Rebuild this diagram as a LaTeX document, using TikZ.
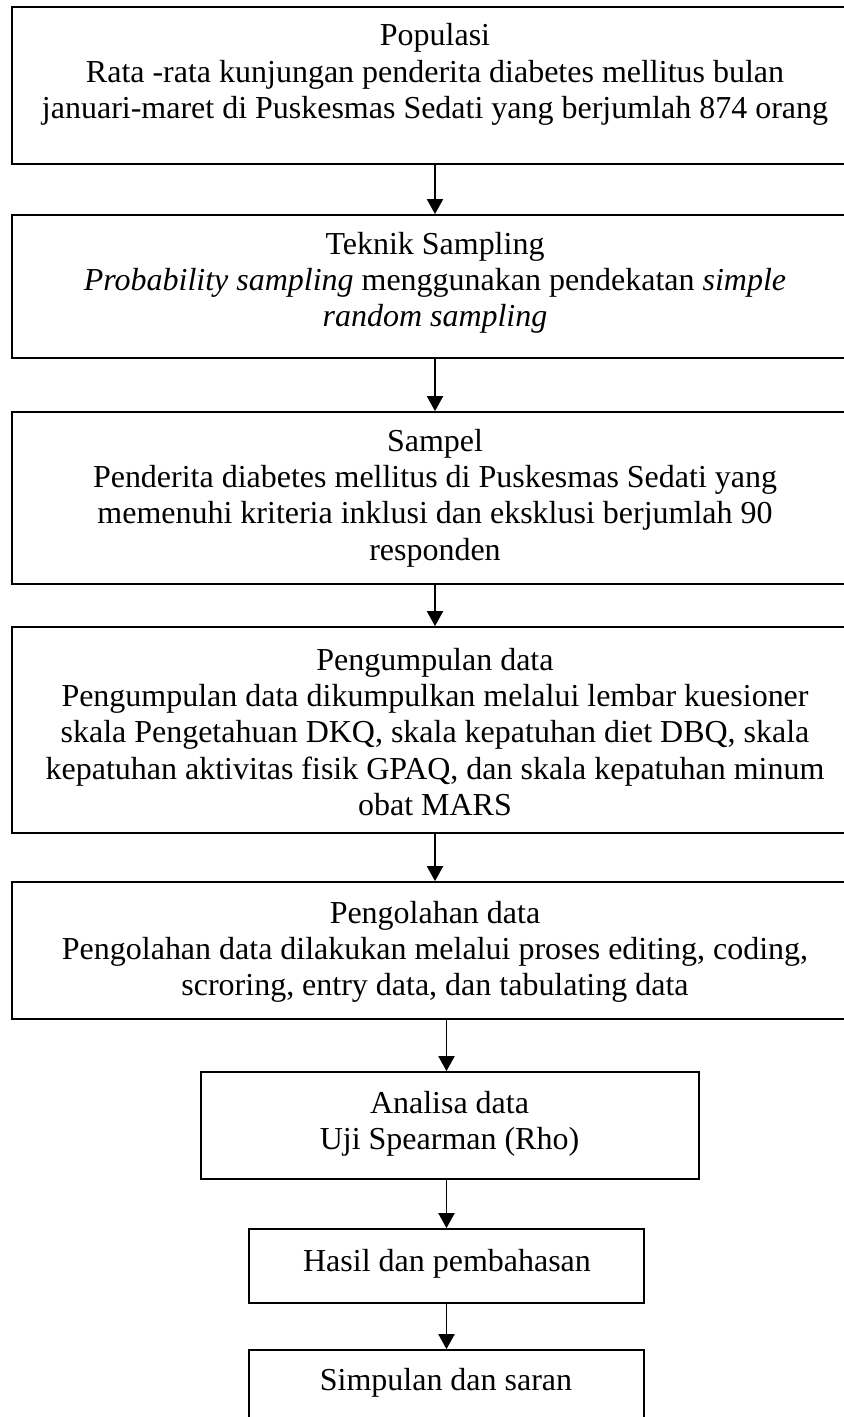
\documentclass[tikz,border=0pt]{standalone}
\usepackage{fontspec}
\setmainfont{Liberation Serif}
\usetikzlibrary{arrows.meta}

\begin{document}
\begin{tikzpicture}[
    box/.style = {draw, line width=0.5pt, inner sep=0pt},
    txt/.style = {align=center, inner sep=0pt, font=\fontsize{9.1}{10.3}\selectfont},
    arr/.style = {-{Triangle[length=4.3pt,width=4.6pt]}, line width=0.5pt}
]
    \clip (0,0) rectangle (8.44,-14.17);

    \node [box, minimum width=8.46cm, minimum height=1.57cm] (pop) at (4.35,-0.855) {};
    \node [txt] (Pop) at (4.35,-0.745) {Populasi\\Rata -rata kunjungan penderita diabetes mellitus bulan\\januari-maret di Puskesmas Sedati yang berjumlah 874 orang};
    \node [box, minimum width=8.46cm, minimum height=1.43cm] (tek) at (4.35,-2.865) {};
    \node [txt] (Tek) at (4.35,-2.83) {Teknik Sampling\\\textit{Probability sampling} menggunakan pendekatan \textit{simple}\\\textit{random sampling}};
    \node [box, minimum width=8.46cm, minimum height=1.72cm] (sam) at (4.35,-4.98) {};
    \node [txt] (Sam) at (4.35,-4.98) {Sampel\\Penderita diabetes mellitus di Puskesmas Sedati yang\\memenuhi kriteria inklusi dan eksklusi berjumlah 90\\responden};
    \node [box, minimum width=8.46cm, minimum height=2.06cm] (kum) at (4.35,-7.30) {};
    \node [txt] (Kum) at (4.35,-7.32) {Pengumpulan data\\Pengumpulan data dikumpulkan melalui lembar kuesioner\\skala Pengetahuan DKQ, skala kepatuhan diet DBQ, skala\\kepatuhan aktivitas fisik GPAQ, dan skala kepatuhan minum\\obat MARS};
    \node [box, minimum width=8.46cm, minimum height=1.37cm] (olah) at (4.35,-9.505) {};
    \node [txt] (Olah) at (4.35,-9.52) {Pengolahan data\\Pengolahan data dilakukan melalui proses editing, coding,\\scroring, entry data, dan tabulating data};
    \node [box, minimum width=4.98cm, minimum height=1.07cm] (ana) at (4.50,-11.255) {};
    \node [txt] (Ana) at (4.495,-11.235) {Analisa data\\Uji Spearman (Rho)};
    \node [box, minimum width=3.95cm, minimum height=0.74cm] (has) at (4.465,-12.66) {};
    \node [txt] (Has) at (4.47,-12.635) {Hasil dan pembahasan};
    \node [box, minimum width=3.95cm, minimum height=0.80cm] (sim) at (4.465,-13.90) {};
    \node [txt] (Sim) at (4.46,-13.83) {Simpulan dan saran};

    \draw [arr] (pop) -- (tek);
    \draw [arr] (tek) -- (sam);
    \draw [arr] (sam) -- (kum);
    \draw [arr] (kum) -- (olah);
    \draw [arr] (olah.south -| has) -- (ana.north -| has);
    \draw [arr] (ana.south -| has) -- (has);
    \draw [arr] (has) -- (sim);
\end{tikzpicture}
\end{document}
